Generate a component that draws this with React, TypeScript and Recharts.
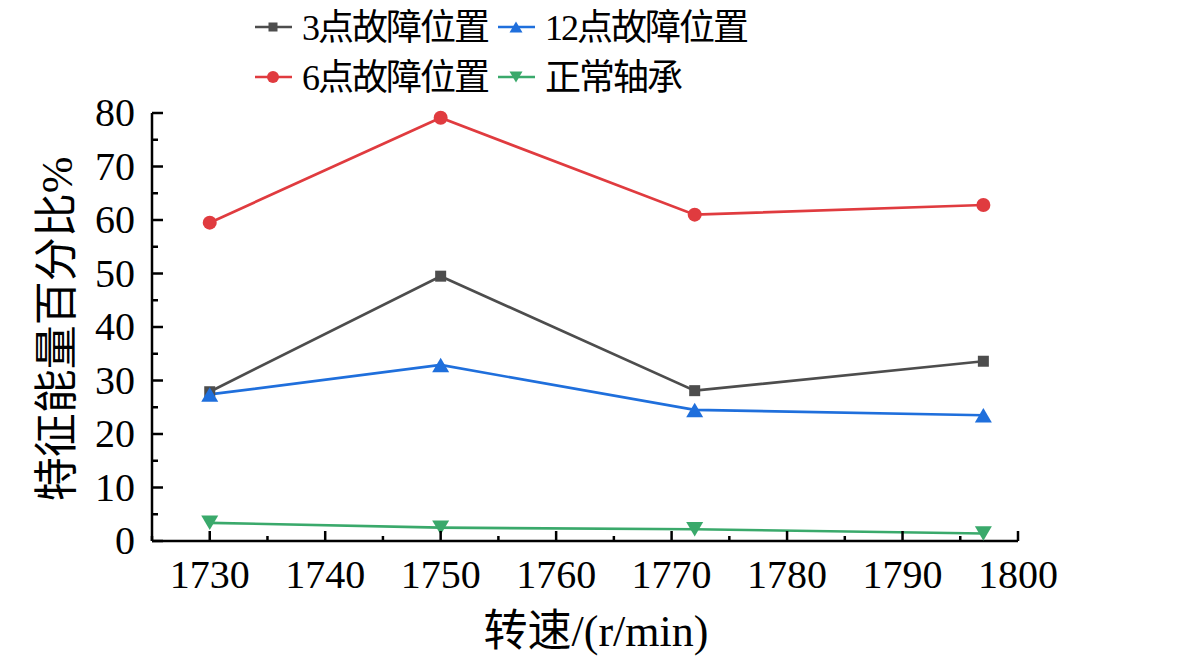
import { LineChart, Line, XAxis, YAxis, Legend } from 'recharts'

const speeds = [1730, 1750, 1772, 1797]
const pos3 = [27.9, 49.5, 28.1, 33.6]
const pos6 = [59.5, 79.1, 61.0, 62.8]
const pos12 = [27.4, 32.9, 24.5, 23.5]
const normal = [3.4, 2.5, 2.2, 1.4]

const xTicks = [1725, 1730, 1735, 1740, 1745, 1750, 1755, 1760, 1765, 1770, 1775, 1780, 1785, 1790, 1795, 1800]
const yTicks = [0, 5, 10, 15, 20, 25, 30, 35, 40, 45, 50, 55, 60, 65, 70, 75, 80]

const FONT = "'Liberation Serif', 'Times New Roman', 'Noto Sans CJK SC', serif"

const data = speeds.map((s, i) => ({
  speed: s,
  pos3: pos3[i],
  pos6: pos6[i],
  pos12: pos12[i],
  normal: normal[i],
}))

type Shape = 'square' | 'circle' | 'up' | 'down'

const series: { key: string; name: string; color: string; shape: Shape }[] = [
  { key: 'pos3', name: '3点故障位置', color: '#4d4d4d', shape: 'square' },
  { key: 'pos6', name: '6点故障位置', color: '#e03b3f', shape: 'circle' },
  { key: 'pos12', name: '12点故障位置', color: '#1f6fdc', shape: 'up' },
  { key: 'normal', name: '正常轴承', color: '#3aa96b', shape: 'down' },
]

function marker(shape: Shape, cx: number, cy: number, s: number, color: string, key?: string) {
  if (shape === 'square') {
    return <rect key={key} x={cx - s / 2} y={cy - s / 2} width={s} height={s} fill={color} />
  }
  if (shape === 'circle') {
    return <circle key={key} cx={cx} cy={cy} r={s / 2} fill={color} />
  }
  const h = s * 0.85
  if (shape === 'up') {
    return (
      <polygon
        key={key}
        points={`${cx - s / 2},${cy + h / 2} ${cx + s / 2},${cy + h / 2} ${cx},${cy - h / 2}`}
        fill={color}
      />
    )
  }
  return (
    <polygon
      key={key}
      points={`${cx - s / 2},${cy - h / 2} ${cx + s / 2},${cy - h / 2} ${cx},${cy + h / 2}`}
      fill={color}
    />
  )
}

const dotSize: Record<Shape, number> = { square: 11, circle: 14, up: 17, down: 17 }

function XTick({ x, y, payload }: any) {
  const major = payload.value % 10 === 0
  return (
    <g>
      <line x1={x} y1={y} x2={x} y2={y - (major ? 10 : 5)} stroke="#000" strokeWidth={2.5} />
      {major && (
        <text x={x} y={y + 47} textAnchor="middle" fontSize={40} fontFamily={FONT} fill="#000">
          {payload.value}
        </text>
      )}
    </g>
  )
}

function YTick({ x, y, payload }: any) {
  const major = payload.value % 10 === 0
  return (
    <g>
      <line x1={x} y1={y} x2={x + (major ? 11 : 6)} y2={y} stroke="#000" strokeWidth={2.5} />
      {major && (
        <text x={x - 17} y={y + 13} textAnchor="end" fontSize={40} fontFamily={FONT} fill="#000">
          {payload.value}
        </text>
      )}
    </g>
  )
}

// legend grid, column-major like the original (3, 6 | 12, 正常)
const legendCols = [255, 498]
const legendTextX = [302, 545]
const legendRows = [27, 77]

function LegendBox() {
  return (
    <svg width={1181} height={100} style={{ display: 'block' }}>
      {series.map((s, i) => {
        const col = Math.floor(i / 2)
        const row = i % 2
        const x0 = legendCols[col]
        const cy = legendRows[row]
        return (
          <g key={s.key}>
            <line x1={x0} y1={cy} x2={x0 + 37} y2={cy} stroke={s.color} strokeWidth={2.5} />
            {marker(s.shape, x0 + 18, cy, s.shape === 'square' ? 9 : s.shape === 'circle' ? 12 : 13, s.color)}
            <text
              x={legendTextX[col]}
              y={cy + 13}
              fontSize={36}
              letterSpacing={-2}
              fontFamily={FONT}
              fill="#000"
            >
              {s.name}
            </text>
          </g>
        )
      })}
    </svg>
  )
}

export default function App() {
  return (
    <div style={{ position: 'absolute', left: 0, top: 0, background: '#fff' }}>
      <LineChart
        width={1181}
        height={663}
        data={data}
        margin={{ top: 13, right: 163, bottom: 0, left: 0 }}
      >
        <Legend
          verticalAlign="top"
          content={() => <LegendBox />}
          wrapperStyle={{ top: 0, left: 0, width: 1181, height: 100 }}
        />
        <XAxis
          dataKey="speed"
          type="number"
          domain={[1725, 1800]}
          ticks={xTicks}
          interval={0}
          height={122}
          tickSize={0}
          tickMargin={0}
          tick={<XTick />}
          axisLine={{ stroke: '#000', strokeWidth: 2.5 }}
          label={({ viewBox }: any) => (
            <text
              x={viewBox.x + viewBox.width / 2 + 11}
              y={646}
              textAnchor="middle"
              fontSize={44}
              fontFamily={FONT}
              fill="#000"
            >
              转速/(r/min)
            </text>
          )}
        />
        <YAxis
          type="number"
          domain={[0, 80]}
          ticks={yTicks}
          interval={0}
          width={152}
          tickSize={0}
          tickMargin={0}
          tick={<YTick />}
          axisLine={{ stroke: '#000', strokeWidth: 2.5 }}
          label={({ viewBox }: any) => {
            const cy = viewBox.y + viewBox.height / 2 + 2
            return (
              <text
                x={57}
                y={cy}
                transform={`rotate(-90, 57, ${cy})`}
                textAnchor="middle"
                dominantBaseline="central"
                fontSize={44}
                fontFamily={FONT}
                fill="#000"
              >
                特征能量百分比%
              </text>
            )
          }}
        />
        {series.map((s) => (
          <Line
            key={s.key}
            dataKey={s.key}
            name={s.name}
            stroke={s.color}
            strokeWidth={2.7}
            isAnimationActive={false}
            dot={(p: any) => marker(s.shape, p.cx, p.cy, dotSize[s.shape], s.color, `${s.key}-${p.index}`)}
            activeDot={false}
          />
        ))}
      </LineChart>
    </div>
  )
}
